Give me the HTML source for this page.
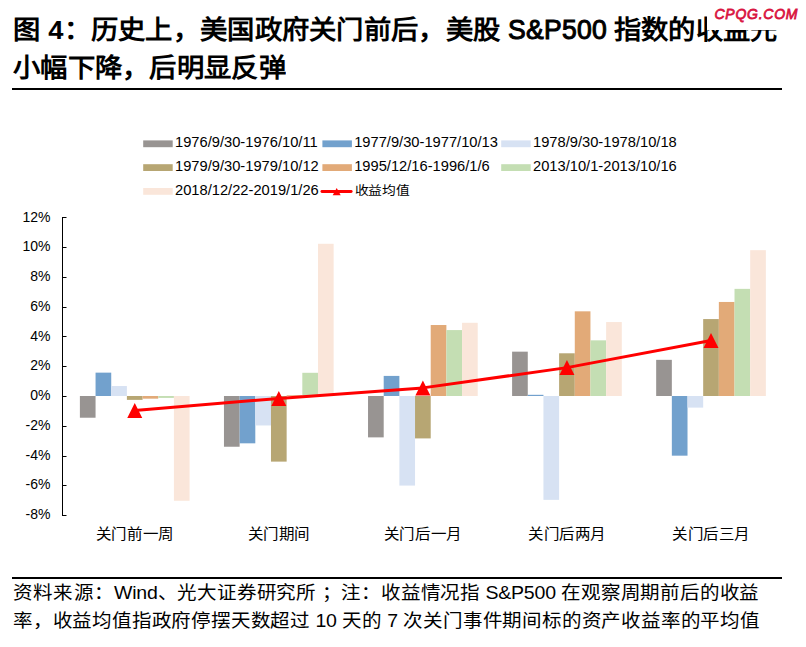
<!DOCTYPE html>
<html lang="zh-CN"><head><meta charset="utf-8">
<style>
html,body{margin:0;padding:0;background:#fff;}
body{width:806px;height:647px;position:relative;overflow:hidden;font-family:"Liberation Sans",sans-serif;color:#000;}
.t{position:absolute;white-space:nowrap;}
.title{font-size:27.35px;font-weight:bold;line-height:1;left:13px;transform:scaleY(0.945);transform-origin:0 0;letter-spacing:0.28px;}
.foot{font-size:19.53px;line-height:1;left:13px;transform:scaleY(0.94);transform-origin:0 0;word-spacing:0.2px;letter-spacing:-0.2px;}
svg{position:absolute;left:0;top:0;}
svg text{font-family:"Liberation Sans",sans-serif;fill:#000;}
.ytl{font-size:14px;}
.leg{font-size:14.7px;}
.cat{font-size:15.5px;}
</style></head><body>
<div class="t title" id="t1" style="top:17.25px"><span id="t1s">图</span> 4：历史上，美国政府关门前后，<span id="t1m">美</span>股 <span id="t1L" style="display:inline-block;width:98px;white-space:nowrap;vertical-align:baseline;line-height:20px"><span style="display:inline-block;font-size:29.5px;line-height:20px;font-weight:normal;-webkit-text-stroke:1.1px #000;letter-spacing:0.3px;transform:scaleX(0.9);transform-origin:0 0">S&amp;P500</span></span> <span id="t1Z">指</span>数的收益<span id="t1e">先</span></div>
<div class="t title" id="t2" style="top:54.9px">小幅下降，后明显反<span id="t2e">弹</span></div>
<div style="position:absolute;left:12px;top:88px;width:770px;height:2px;background:#000"></div>
<div style="position:absolute;left:707px;top:0;width:99px;height:30px;background:#fff"></div>
<div class="t" id="wm" style="left:714.5px;top:6.3px;font-size:14px;font-weight:normal;-webkit-text-stroke:0.75px #D9143F;font-style:italic;color:#D9143F;line-height:1;letter-spacing:0.75px;transform:scaleY(1.1);transform-origin:0 0">CPQG.COM</div>
<svg width="806" height="647" viewBox="0 0 806 647">
<g class="leg">
<rect x="143.20" y="140.40" width="29.5" height="6.8" fill="#989492"/>
<text id="leg0" x="175.00" y="147.20">1976/9/30-1976/10/11</text>
<rect x="322.40" y="140.40" width="29.5" height="6.8" fill="#72A1CD"/>
<text id="leg1" x="354.20" y="147.20">1977/9/30-1977/10/13</text>
<rect x="501.20" y="140.40" width="29.5" height="6.8" fill="#D7E2F3"/>
<text id="leg2" x="533.00" y="147.20">1978/9/30-1978/10/18</text>
<rect x="143.20" y="164.20" width="29.5" height="6.8" fill="#B7A673"/>
<text id="leg3" x="175.00" y="171.00">1979/9/30-1979/10/12</text>
<rect x="322.40" y="164.20" width="29.5" height="6.8" fill="#E2AA78"/>
<text id="leg4" x="354.20" y="171.00">1995/12/16-1996/1/6</text>
<rect x="501.20" y="164.20" width="29.5" height="6.8" fill="#C4DEB3"/>
<text id="leg5" x="533.00" y="171.00">2013/10/1-2013/10/16</text>
<rect x="143.20" y="188.00" width="29.5" height="6.8" fill="#FAE6DA"/>
<text id="leg6" x="175.00" y="194.80">2018/12/22-2019/1/26</text>
<line x1="321.90" y1="191.5" x2="351.20" y2="191.5" stroke="#FF0000" stroke-width="2.8" stroke-linecap="round"/>
<path d="M336.70,187.9 L340.70,195.3 L332.70,195.3 Z" fill="#FF0000"/>
<text id="legL" transform="translate(354.60,194.8) scale(1,0.9)" x="0" y="0" style="font-size:13.8px">收益均值</text>
</g>
<rect x="79.89" y="396.00" width="15.67" height="21.72" fill="#989492"/>
<rect x="95.56" y="372.64" width="15.67" height="23.36" fill="#72A1CD"/>
<rect x="111.23" y="386.03" width="15.67" height="9.97" fill="#D7E2F3"/>
<rect x="126.90" y="396.00" width="15.67" height="3.87" fill="#B7A673"/>
<rect x="142.57" y="396.00" width="15.67" height="2.68" fill="#E2AA78"/>
<rect x="158.24" y="396.00" width="15.67" height="1.93" fill="#C4DEB3"/>
<rect x="173.91" y="396.00" width="15.67" height="104.76" fill="#FAE6DA"/>
<rect x="223.96" y="396.00" width="15.67" height="50.74" fill="#989492"/>
<rect x="239.63" y="396.00" width="15.67" height="47.32" fill="#72A1CD"/>
<rect x="255.30" y="396.00" width="15.67" height="29.46" fill="#D7E2F3"/>
<rect x="270.97" y="396.00" width="15.67" height="65.62" fill="#B7A673"/>
<rect x="286.64" y="395.26" width="15.67" height="0.74" fill="#E2AA78"/>
<rect x="302.31" y="372.79" width="15.67" height="23.21" fill="#C4DEB3"/>
<rect x="317.98" y="243.78" width="15.67" height="152.22" fill="#FAE6DA"/>
<rect x="368.03" y="396.00" width="15.67" height="41.37" fill="#989492"/>
<rect x="383.70" y="375.91" width="15.67" height="20.09" fill="#72A1CD"/>
<rect x="399.37" y="396.00" width="15.67" height="89.58" fill="#D7E2F3"/>
<rect x="415.04" y="396.00" width="15.67" height="42.41" fill="#B7A673"/>
<rect x="430.71" y="325.02" width="15.67" height="70.98" fill="#E2AA78"/>
<rect x="446.38" y="330.08" width="15.67" height="65.92" fill="#C4DEB3"/>
<rect x="462.05" y="322.79" width="15.67" height="73.21" fill="#FAE6DA"/>
<rect x="512.10" y="351.66" width="15.67" height="44.34" fill="#989492"/>
<rect x="527.77" y="394.81" width="15.67" height="1.19" fill="#72A1CD"/>
<rect x="543.44" y="396.00" width="15.67" height="103.86" fill="#D7E2F3"/>
<rect x="559.11" y="353.29" width="15.67" height="42.71" fill="#B7A673"/>
<rect x="574.78" y="311.33" width="15.67" height="84.67" fill="#E2AA78"/>
<rect x="590.45" y="340.35" width="15.67" height="55.65" fill="#C4DEB3"/>
<rect x="606.12" y="322.05" width="15.67" height="73.95" fill="#FAE6DA"/>
<rect x="656.17" y="359.84" width="15.67" height="36.16" fill="#989492"/>
<rect x="671.84" y="396.00" width="15.67" height="59.67" fill="#72A1CD"/>
<rect x="687.51" y="396.00" width="15.67" height="11.61" fill="#D7E2F3"/>
<rect x="703.18" y="319.07" width="15.67" height="76.93" fill="#B7A673"/>
<rect x="718.85" y="301.96" width="15.67" height="94.04" fill="#E2AA78"/>
<rect x="734.52" y="288.86" width="15.67" height="107.14" fill="#C4DEB3"/>
<rect x="750.19" y="250.18" width="15.67" height="145.82" fill="#FAE6DA"/>
<line x1="62.5" y1="217" x2="62.5" y2="516" stroke="#000" stroke-width="1"/>
<line x1="62" y1="217.50" x2="66.5" y2="217.50" stroke="#000" stroke-width="1"/>
<line x1="62" y1="247.50" x2="66.5" y2="247.50" stroke="#000" stroke-width="1"/>
<line x1="62" y1="277.50" x2="66.5" y2="277.50" stroke="#000" stroke-width="1"/>
<line x1="62" y1="307.50" x2="66.5" y2="307.50" stroke="#000" stroke-width="1"/>
<line x1="62" y1="336.50" x2="66.5" y2="336.50" stroke="#000" stroke-width="1"/>
<line x1="62" y1="366.50" x2="66.5" y2="366.50" stroke="#000" stroke-width="1"/>
<line x1="62" y1="396.50" x2="66.5" y2="396.50" stroke="#000" stroke-width="1"/>
<line x1="62" y1="426.50" x2="66.5" y2="426.50" stroke="#000" stroke-width="1"/>
<line x1="62" y1="456.50" x2="66.5" y2="456.50" stroke="#000" stroke-width="1"/>
<line x1="62" y1="485.50" x2="66.5" y2="485.50" stroke="#000" stroke-width="1"/>
<line x1="62" y1="515.50" x2="66.5" y2="515.50" stroke="#000" stroke-width="1"/>
<g class="ytl">
<text id="y0" x="50.5" y="221.64" text-anchor="end">12%</text>
<text id="y1" x="50.5" y="251.40" text-anchor="end">10%</text>
<text id="y2" x="50.5" y="281.16" text-anchor="end">8%</text>
<text id="y3" x="50.5" y="310.92" text-anchor="end">6%</text>
<text id="y4" x="50.5" y="340.68" text-anchor="end">4%</text>
<text id="y5" x="50.5" y="370.44" text-anchor="end">2%</text>
<text id="y6" x="50.5" y="400.20" text-anchor="end">0%</text>
<text id="y7" x="50.5" y="429.96" text-anchor="end">-2%</text>
<text id="y8" x="50.5" y="459.72" text-anchor="end">-4%</text>
<text id="y9" x="50.5" y="489.48" text-anchor="end">-6%</text>
<text id="y10" x="50.5" y="519.24" text-anchor="end">-8%</text>
</g>
<polyline points="134.74,410.52 278.80,398.42 422.88,387.88 566.94,367.62 711.01,340.46" fill="none" stroke="#FF0000" stroke-width="3" stroke-linejoin="round"/>
<path d="M134.74,403.02 L142.24,418.02 L127.24,418.02 Z" fill="#FF0000"/>
<path d="M278.80,390.92 L286.30,405.92 L271.30,405.92 Z" fill="#FF0000"/>
<path d="M422.88,380.38 L430.38,395.38 L415.38,395.38 Z" fill="#FF0000"/>
<path d="M566.94,360.12 L574.44,375.12 L559.44,375.12 Z" fill="#FF0000"/>
<path d="M711.01,332.96 L718.51,347.96 L703.51,347.96 Z" fill="#FF0000"/>
<g class="cat">
<text id="c0" transform="translate(134.74,539) scale(1,0.92)" x="0" y="0" text-anchor="middle">关门前一周</text>
<text id="c1" transform="translate(278.80,539) scale(1,0.92)" x="0" y="0" text-anchor="middle">关门期间</text>
<text id="c2" transform="translate(422.88,539) scale(1,0.92)" x="0" y="0" text-anchor="middle">关门后一月</text>
<text id="c3" transform="translate(566.94,539) scale(1,0.92)" x="0" y="0" text-anchor="middle">关门后两月</text>
<text id="c4" transform="translate(711.01,539) scale(1,0.92)" x="0" y="0" text-anchor="middle">关门后三月</text>
</g>
</svg>
<div style="position:absolute;left:12px;top:577px;width:770px;height:2px;background:#000"></div>
<div class="t foot" id="f1" style="top:584px"><span style="letter-spacing:0.2px">资料来源：</span><span id="fW">W</span>ind、<span id="fG">光</span>大证券研究所 ；<span id="fZ">注</span>：收益情况指 <span id="fS">S</span>&amp;P500 <span id="fzai">在</span>观察周期前后的收<span id="f1e">益</span></div>
<div class="t foot" id="f2" style="top:611.6px">率，收益均值指政府停摆天数超过 <span id="f10">10</span> <span id="ftian">天</span>的 <span id="f7">7</span> <span id="fci">次</span>关门事件期间标的资产收益率的平均<span id="f2e">值</span></div>
</body></html>
